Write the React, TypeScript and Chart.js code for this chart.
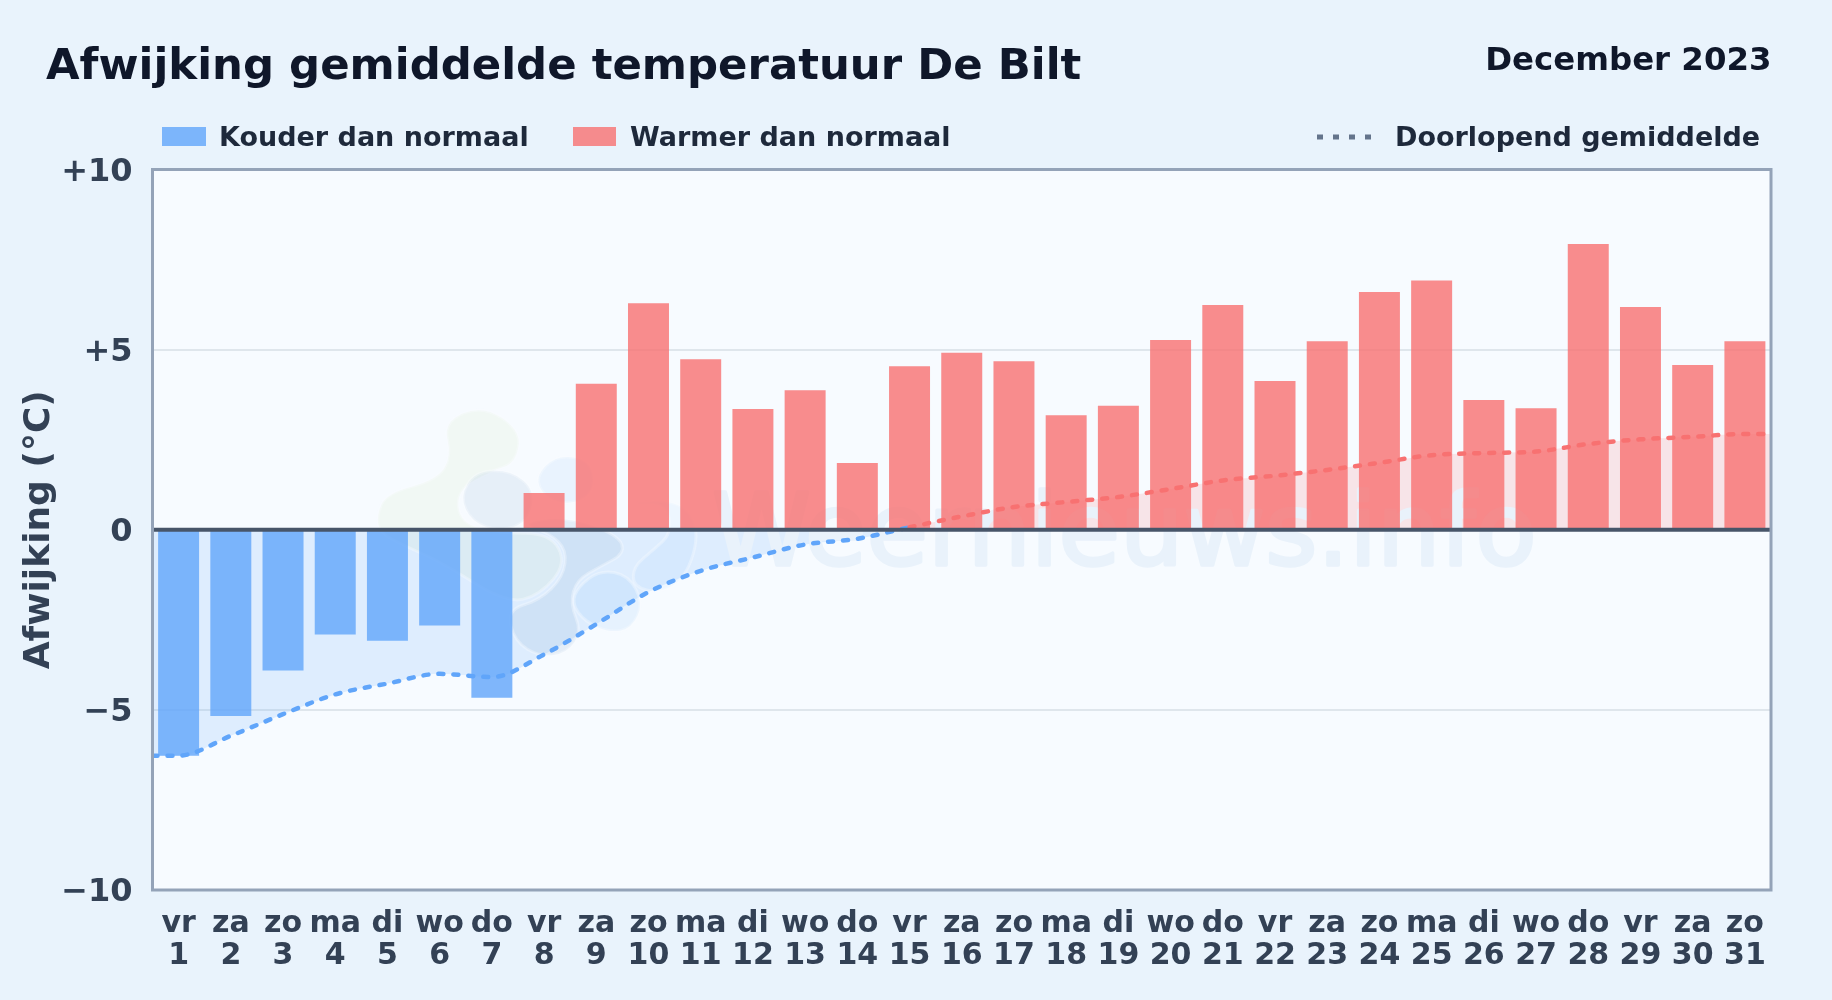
import React, { useEffect, useRef } from "react";
import Chart from "chart.js/auto";

const weekdays = ["vr","za","zo","ma","di","wo","do","vr","za","zo","ma","di","wo","do","vr","za","zo","ma","di","wo","do","vr","za","zo","ma","di","wo","do","vr","za","zo"];
const days = ["1","2","3","4","5","6","7","8","9","10","11","12","13","14","15","16","17","18","19","20","21","22","23","24","25","26","27","28","29","30","31"];
const deviations = [-6.27,-5.17,-3.91,-2.91,-3.08,-2.66,-4.66,1.02,4.05,6.29,4.73,3.35,3.87,1.85,4.54,4.91,4.68,3.18,3.44,5.27,6.24,4.13,5.23,6.6,6.92,3.6,3.37,7.93,6.18,4.57,5.23];
const runningMean = [-6.27,-5.72,-5.12,-4.57,-4.27,-4.0,-4.09,-3.46,-2.62,-1.73,-1.14,-0.77,-0.41,-0.25,0.07,0.37,0.63,0.77,0.91,1.13,1.37,1.5,1.66,1.86,2.07,2.13,2.17,2.38,2.51,2.58,2.66];
const yTicks = { min: -10, max: 10, step: 5 };

const TITLE = "Afwijking gemiddelde temperatuur De Bilt";
const PERIOD = "December 2023";
const LEGEND_COLD = "Kouder dan normaal";
const LEGEND_WARM = "Warmer dan normaal";
const LEGEND_LINE = "Doorlopend gemiddelde";
const WATERMARK = "Weernieuws.info";
const FONT = '"DejaVu Sans"';

const BLUE = "rgba(96,165,250,0.8)";
const RED = "rgba(248,113,113,0.8)";

// decorative logo blobs behind the data (crop-relative outline points)
const blobGreen = [[50,375],[80,310],[230,270],[275,200],[250,95],[370,45],[485,125],[465,220],[400,240],[290,300],[300,400],[420,430],[570,430],[620,520],[540,615],[440,640],[250,520],[140,470],[60,430]];
const blobGrey = [[300,320],[345,245],[450,240],[525,300],[505,395],[420,425],[335,395]];
const blobLowerGrey = [[480,400],[620,380],[775,435],[795,490],[720,530],[650,570],[630,640],[665,725],[620,790],[540,800],[465,755],[440,660],[540,630],[610,560],[620,480],[570,430]];
const blobSky = [[525,260],[590,195],[690,210],[705,300],[640,345],[555,325]];
const blobSkyLower = [[655,590],[720,540],[805,555],[850,640],[815,715],[750,728],[675,695],[635,640]];
const blobSkyRight = [[800,340],[920,340],[935,430],[880,480],[820,530],[820,590],[900,610],[980,560],[1020,420],[960,330]];

function blobPath(ctx: CanvasRenderingContext2D, pts: number[][]) {
  const P = pts.map(([x, y]) => [360 + x / 3, 390 + y / 3]);
  ctx.beginPath();
  const n = P.length;
  const mid = (a: number[], b: number[]) => [(a[0] + b[0]) / 2, (a[1] + b[1]) / 2];
  const s = mid(P[n - 1], P[0]);
  ctx.moveTo(s[0], s[1]);
  for (let i = 0; i < n; i++) {
    const m = mid(P[i], P[(i + 1) % n]);
    ctx.quadraticCurveTo(P[i][0], P[i][1], m[0], m[1]);
  }
  ctx.closePath();
}

const backdropPlugin = {
  id: "backdrop",
  beforeDraw(chart: any) {
    const { ctx, chartArea: a } = chart;
    ctx.save();
    ctx.fillStyle = "#e9f3fc";
    ctx.fillRect(0, 0, chart.width, chart.height);
    ctx.fillStyle = "#f7fbff";
    ctx.fillRect(a.left, a.top, a.width, a.height);
    ctx.restore();
  },
  beforeDatasetsDraw(chart: any) {
    const { ctx } = chart;
    ctx.save();
    const blob = (pts: number[][], fill: string) => {
      blobPath(ctx, pts);
      ctx.fillStyle = fill;
      ctx.fill();
      ctx.strokeStyle = "rgba(248,251,255,0.35)";
      ctx.lineWidth = 3;
      ctx.stroke();
    };
    blob(blobGreen, "rgba(200,225,150,0.1)");
    blob(blobGrey, "rgba(130,170,205,0.14)");
    blob(blobLowerGrey, "rgba(130,170,205,0.16)");
    blob(blobSky, "rgba(130,190,250,0.12)");
    blob(blobSkyRight, "rgba(130,190,250,0.08)");
    blob(blobSkyLower, "rgba(130,190,250,0.14)");
    ctx.font = `100px ${FONT}`;
    ctx.textAlign = "left";
    ctx.textBaseline = "alphabetic";
    ctx.fillStyle = "#e9f2fb";
    ctx.strokeStyle = "#e9f2fb";
    ctx.lineWidth = 3.5;
    ctx.lineJoin = "round";
    ctx.strokeText(WATERMARK, 712, 565);
    ctx.fillText(WATERMARK, 712, 565);
    ctx.restore();
  },
  afterDatasetsDraw(chart: any) {
    const { ctx, chartArea: a, scales } = chart;
    const y0 = scales.y.getPixelForValue(0);
    ctx.save();
    ctx.strokeStyle = "#475569";
    ctx.lineWidth = 4;
    ctx.beginPath();
    ctx.moveTo(a.left, y0);
    ctx.lineTo(a.right, y0);
    ctx.stroke();
    ctx.strokeStyle = "#94a3b8";
    ctx.lineWidth = 3;
    ctx.strokeRect(a.left, a.top, a.width, a.height);
    ctx.restore();
  },
  afterDraw(chart: any) {
    const { ctx } = chart;
    ctx.save();
    ctx.textBaseline = "alphabetic";
    ctx.textAlign = "left";
    ctx.fillStyle = "#0f172a";
    ctx.font = `bold 43.4px ${FONT}`;
    ctx.fillText(TITLE, 46, 79);
    ctx.textAlign = "right";
    ctx.font = `bold 32.4px ${FONT}`;
    ctx.fillText(PERIOD, 1771.5, 70);
    ctx.textAlign = "left";
    ctx.font = `bold 27px ${FONT}`;
    ctx.fillStyle = BLUE;
    ctx.fillRect(162, 127, 44, 19);
    ctx.fillStyle = RED;
    ctx.fillRect(573, 127, 43, 19);
    ctx.fillStyle = "#1e293b";
    ctx.fillText(LEGEND_COLD, 219, 146);
    ctx.fillText(LEGEND_WARM, 630, 146);
    ctx.fillText(LEGEND_LINE, 1395, 146);
    ctx.strokeStyle = "#64748b";
    ctx.lineWidth = 5;
    ctx.setLineDash([6, 10]);
    ctx.beginPath();
    ctx.moveTo(1317, 137);
    ctx.lineTo(1375, 137);
    ctx.stroke();
    ctx.restore();
  },
};

export default function App() {
  const ref = useRef<HTMLCanvasElement | null>(null);
  useEffect(() => {
    const canvas = ref.current;
    if (!canvas) return;
    const linePoints = [
      { x: 0.5, y: runningMean[0] },
      ...runningMean.map((y, i) => ({ x: i + 1, y })),
      { x: 31.5, y: runningMean[runningMean.length - 1] },
    ];
    const chart = new Chart(canvas, {
      type: "bar",
      plugins: [backdropPlugin],
      data: {
        labels: days.map((d, i) => [weekdays[i], d]),
        datasets: [
          {
            label: LEGEND_COLD,
            data: deviations.map((v) => (v < 0 ? v : null)),
            backgroundColor: BLUE,
            grouped: false,
            barPercentage: 0.785,
            categoryPercentage: 1,
            order: 2,
          },
          {
            label: LEGEND_WARM,
            data: deviations.map((v) => (v >= 0 ? v : null)),
            backgroundColor: RED,
            grouped: false,
            barPercentage: 0.785,
            categoryPercentage: 1,
            order: 2,
          },
          {
            type: "line",
            label: LEGEND_LINE,
            data: linePoints,
            xAxisID: "x2",
            order: 1,
            borderWidth: 4.5,
            borderDash: [5, 10],
            borderCapStyle: "round",
            pointRadius: 0,
            cubicInterpolationMode: "monotone",
            borderColor: "#60a5fa",
            segment: {
              borderColor: (c: any) => (c.p0.parsed.y < 0 ? "#60a5fa" : "#f87171"),
            },
            fill: {
              target: "origin",
              above: "rgba(248,113,113,0.16)",
              below: "rgba(96,165,250,0.16)",
            },
          } as any,
        ],
      },
      options: {
        animation: false,
        responsive: false,
        devicePixelRatio: 1,
        layout: { padding: { left: 0, top: 169.5, right: 61, bottom: 0 } },
        plugins: {
          legend: { display: false },
          tooltip: { enabled: false },
          filler: { drawTime: "beforeDatasetsDraw" },
        },
        scales: {
          x: {
            grid: { display: false, drawTicks: false },
            border: { display: false },
            ticks: {
              autoSkip: false,
              maxRotation: 0,
              minRotation: 0,
              padding: 17.5,
              color: "#334155",
              font: { family: FONT, size: 30, weight: "bold", lineHeight: 1.09 },
            },
            afterFit: (s: any) => {
              s.height = 110;
            },
          },
          x2: { type: "linear", display: false, min: 0.5, max: 31.5, offset: false },
          y: {
            min: yTicks.min,
            max: yTicks.max,
            afterFit: (s: any) => {
              s.width = 152.5;
            },
            grid: {
              drawTicks: false,
              color: (c: any) => (c.tick.value === 5 || c.tick.value === -5 ? "#dfe6ec" : "transparent"),
              lineWidth: 2,
            },
            border: { display: false },
            title: {
              display: true,
              text: "Afwijking (°C)",
              color: "#334155",
              font: { family: FONT, size: 36, weight: "bold" },
              padding: { top: 18, bottom: 0 },
            },
            ticks: {
              stepSize: yTicks.step,
              padding: 20,
              labelOffset: 3,
              color: "#334155",
              font: { family: FONT, size: 32, weight: "bold" },
              callback: (v: any) => (v > 0 ? `+${v}` : v < 0 ? `\u2212${Math.abs(v)}` : "0"),
            },
          },
        },
      },
    } as any);
    return () => chart.destroy();
  }, []);
  return (
    <div style={{ position: "absolute", left: 0, top: 0, width: 1832, height: 1000, overflow: "hidden" }}>
      <canvas ref={ref} width={1832} height={1000} style={{ display: "block", width: 1832, height: 1000 }} />
    </div>
  );
}
